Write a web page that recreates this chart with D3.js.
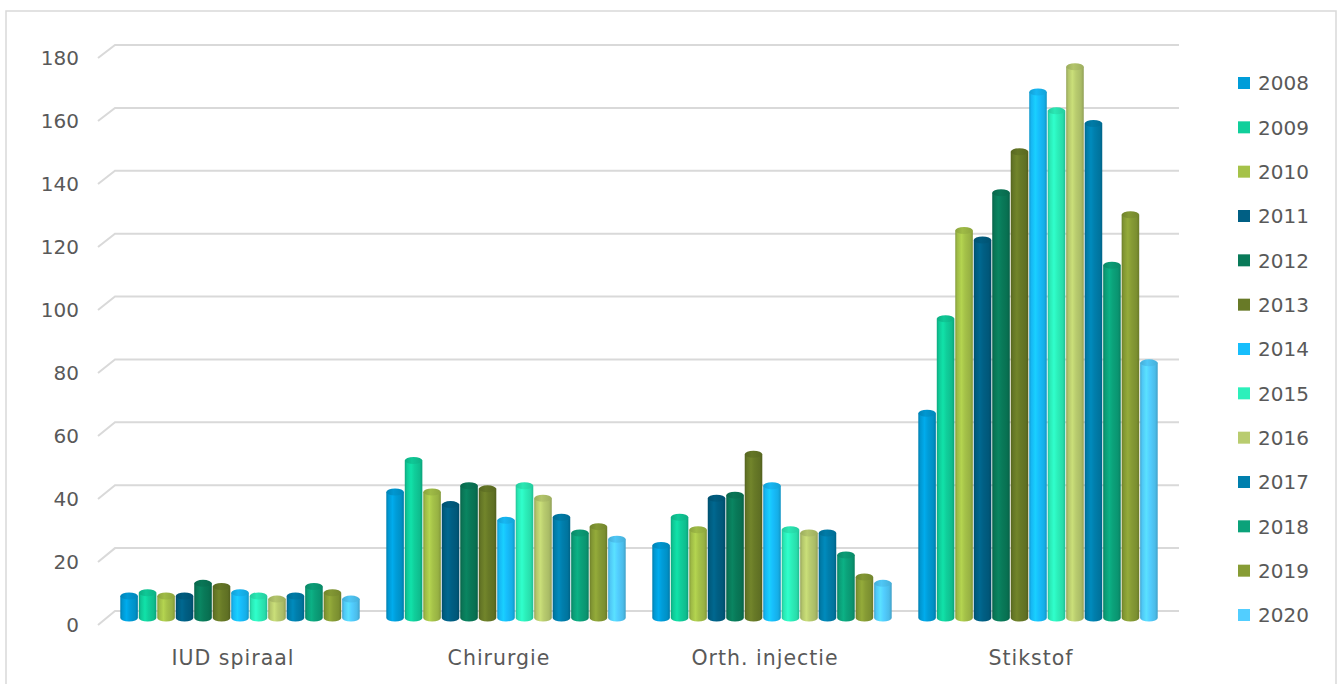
<!DOCTYPE html>
<html>
<head>
<meta charset="utf-8">
<script src="https://cdn.jsdelivr.net/npm/d3@7"></script>
<style>
  body { margin: 0; background: #ffffff; }
  svg { display: block; }
  text { font-family: "DejaVu Sans", sans-serif; fill: #595959; }
</style>
</head>
<body>
<svg id="chart" width="1338" height="684"></svg>
<script>
// Categories, series (years) and values per category, one value per year
const categories = ["IUD spiraal", "Chirurgie", "Orth. injectie", "Stikstof"];
const years = ["2008", "2009", "2010", "2011", "2012", "2013", "2014",
               "2015", "2016", "2017", "2018", "2019", "2020"];
const yearColors = ["#009DD9", "#10CF9B", "#A5C249", "#005F84", "#097A59", "#687A27",
                    "#17BEFC", "#2CF0BB", "#B9CC6F", "#007FAD", "#0BA27A", "#879C35", "#52CEFF"];

const iudSpiraal    = [7, 8, 7, 7, 11, 10, 8, 7, 6, 7, 10, 8, 6];
const chirurgie     = [40, 50, 40, 36, 42, 41, 31, 42, 38, 32, 27, 29, 25];
const orthInjectie  = [23, 32, 28, 38, 39, 52, 42, 28, 27, 27, 20, 13, 11];
const stikstof      = [65, 95, 123, 120, 135, 148, 167, 161, 175, 157, 112, 128, 81];

const yTicks = [0, 20, 40, 60, 80, 100, 120, 140, 160, 180];

const valuesByCategory = [iudSpiraal, chirurgie, orthInjectie, stikstof];
const table = categories.map((c, ci) => ({
  category: c,
  values: years.map((yr, si) => ({ year: yr, si, value: valuesByCategory[ci][si] }))
}));

const svg = d3.select("#chart");

// Outer chart frame
svg.append("rect")
  .attr("x", 6).attr("y", 11)
  .attr("width", 1330).attr("height", 720)
  .attr("fill", "none")
  .attr("stroke", "#D9D9D9")
  .attr("stroke-width", 1.5);

// Scales: front edge (labels), back wall (gridlines) and bar depth
const yFront = d3.scaleLinear().domain([0, 180]).range([625, 58]);
const yWall  = d3.scaleLinear().domain([0, 180]).range([611, 45]);
const yBar   = d3.scaleLinear().domain([0, 180]).range([618, 51]);

const x0 = d3.scaleBand().domain(categories).range([107, 1171])
  .paddingInner(0.1).paddingOuter(0.05);
const x1 = d3.scaleBand().domain(years).range([0, x0.bandwidth()]).paddingInner(0.05);

// Back-wall gridlines with short perspective side-wall segment
const grid = svg.append("g");
grid.selectAll("polyline").data(yTicks).join("polyline")
  .attr("points", d => `98,${yFront(d)} 115,${yWall(d)} 1179,${yWall(d)}`)
  .attr("fill", "none")
  .attr("stroke", "#D9D9D9")
  .attr("stroke-width", 2);

// Value axis labels
const yAxis = d3.axisLeft(yFront).tickValues(yTicks).tickSize(0).tickPadding(0);
const gy = svg.append("g").attr("transform", "translate(79,0)").call(yAxis);
gy.select(".domain").remove();
gy.selectAll("text").style("font-size", "20px").attr("fill", "#595959")
  .style("font-family", "'DejaVu Sans', sans-serif");

// Cylinder shading gradients, one per series
const defs = svg.append("defs");
yearColors.forEach((col, i) => {
  const c = d3.color(col);
  const g = defs.append("linearGradient").attr("id", "body" + i)
    .attr("x1", "0%").attr("x2", "100%").attr("y1", "0%").attr("y2", "0%");
  [[0, c.darker(0.6)], [0.12, c.darker(0.1)], [0.35, c.brighter(0.25)],
   [0.55, c], [0.85, c.darker(0.25)], [1, c.darker(0.7)]]
    .forEach(([o, cc]) => g.append("stop").attr("offset", o).attr("stop-color", cc.formatHex()));
  const t = defs.append("linearGradient").attr("id", "cap" + i)
    .attr("x1", "0%").attr("x2", "100%").attr("y1", "0%").attr("y2", "0%");
  [[0, c.darker(0.5)], [0.4, c.darker(0.1)], [1, c.darker(0.45)]]
    .forEach(([o, cc]) => t.append("stop").attr("offset", o).attr("stop-color", cc.formatHex()));
});

// Cylinders
const ry = 3.5;
const groups = svg.append("g").selectAll("g").data(table).join("g")
  .attr("transform", d => `translate(${x0(d.category)},0)`);

const bars = groups.selectAll("g").data(d => d.values).join("g");

bars.append("path")
  .attr("d", d => {
    const xl = x1(d.year), w = x1.bandwidth(), xr = xl + w;
    const yt = yBar(d.value), yb = yBar(0);
    return `M${xl},${yt} L${xl},${yb} A${w / 2},${ry} 0 0 0 ${xr},${yb} L${xr},${yt} Z`;
  })
  .attr("fill", d => `url(#body${d.si})`);

bars.append("ellipse")
  .attr("cx", d => x1(d.year) + x1.bandwidth() / 2)
  .attr("cy", d => yBar(d.value))
  .attr("rx", x1.bandwidth() / 2)
  .attr("ry", ry)
  .attr("fill", d => `url(#cap${d.si})`);

// Category labels
const xAxis = d3.axisBottom(x0).tickSize(0).tickPadding(0);
const gx = svg.append("g").attr("transform", "translate(-7,650)").call(xAxis);
gx.select(".domain").remove();
gx.selectAll("text").style("font-size", "20.5px").attr("fill", "#595959")
  .style("letter-spacing", "1px")
  .style("font-family", "'DejaVu Sans', sans-serif");

// Legend
const ly = d3.scalePoint().domain(years).range([83, 615]);
const legend = svg.append("g").selectAll("g").data(years).join("g")
  .attr("transform", d => `translate(1238,${ly(d)})`);
legend.append("rect")
  .attr("x", 0).attr("y", -6).attr("width", 12).attr("height", 12)
  .attr("fill", (d, i) => yearColors[i]);
legend.append("text")
  .attr("x", 20).attr("y", 0).attr("dy", "0.36em")
  .style("font-size", "20px")
  .text(d => d);
</script>
</body>
</html>
